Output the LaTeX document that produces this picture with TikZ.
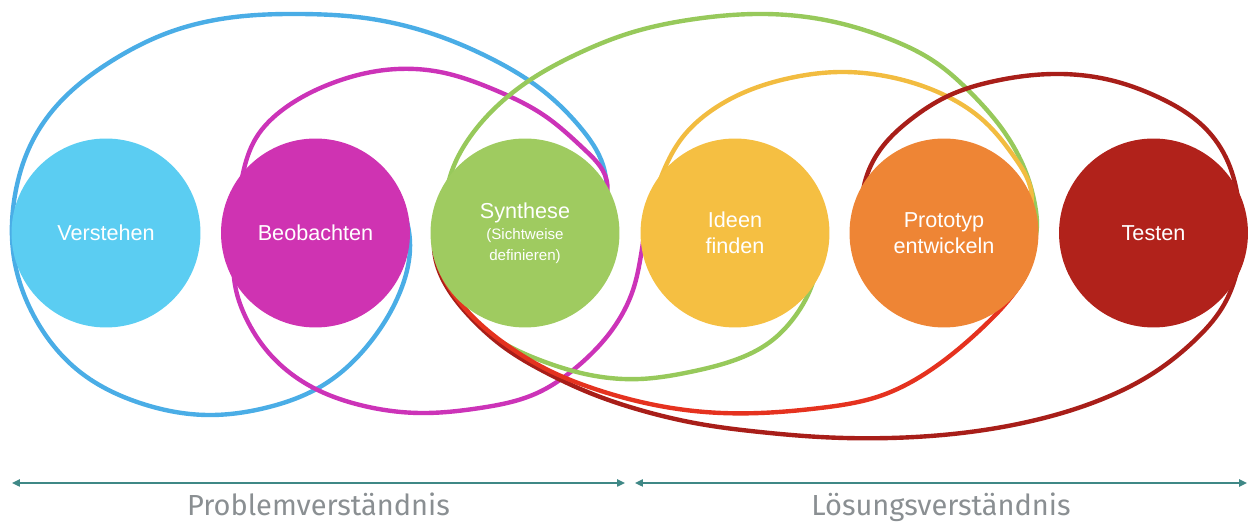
\documentclass[tikz,border=0pt]{standalone}
\usepackage{fontspec}
\setmainfont{Liberation Sans}
\newfontfamily\phasefont{Fira Sans}
\usetikzlibrary{arrows.meta, hobby}

\definecolor{verfill}{HTML}{5BCDF2}
\definecolor{verring}{HTML}{4AADE6}
\definecolor{beofill}{HTML}{CF33B2}
\definecolor{beoring}{HTML}{CC33B8}
\definecolor{synfill}{HTML}{9FCB60}
\definecolor{synring}{HTML}{97C95B}
\definecolor{idefill}{HTML}{F5BF42}
\definecolor{idering}{HTML}{F2BC40}
\definecolor{profill}{HTML}{EE8535}
\definecolor{proring}{HTML}{E5321F}
\definecolor{tesfill}{HTML}{B1221B}
\definecolor{tesring}{HTML}{A81E19}
\definecolor{phaseline}{HTML}{3F8886}
\definecolor{phasetext}{HTML}{8A8F92}

\newcommand{\smalltxt}{\fontsize{8.6}{11}\selectfont}

\tikzset{
  ring/.style={line width=2.5pt, line cap=round},
  stage/.style={circle, minimum size=3.78cm, inner sep=0pt, text=white, align=center,
    font=\fontsize{12.3}{14.7}\selectfont},
  span/.style={draw=phaseline, line width=1.1pt, {Triangle[length=4.5pt,width=4pt]}-{Triangle[length=4.5pt,width=4pt]}},
  spanlabel/.style={text=phasetext, anchor=base, font=\phasefont\fontsize{16.5}{19}\selectfont}
}

\begin{document}
\begin{tikzpicture}[x=0.02cm, y=-0.02cm]
\useasboundingbox (0,0) rectangle (1249,523);

\def\yc{233}

% outer ring around Verstehen
\draw[ring, verring] plot[hobby] coordinates {(402,208) (410,242) (400,292) (372,340) (325,384) (265,408) (207,415) (140,403) (80,372) (35,318) (14,258) (15,195) (33,140) (62,100) (110,62) (170,32) (235,17) (300,14) (365,18) (430,33) (490,58) (542,90) (580,127) (603,165) (606,195)};

% ring around Beobachten
\draw[ring, beoring] plot[hobby] coordinates {(604,203) (606,178) (585,150) (545,116) (495,90) (440,72) (385,70) (330,84) (285,108) (256,138) (245,165) (239,195) (234,230) (233,262) (236,290) (246,318) (268,352) (310,386) (360,405) (420,413) (480,408) (535,394) (578,366) (612,330) (633,290) (641,255) (645,228)};

% ring around Synthese
\draw[ring, synring] plot[hobby] coordinates {(818,255) (812,285) (796,315) (770,342) (735,360) (690,372) (640,379) (590,375) (545,362) (505,344) (476,322) (458,295) (447,265) (443,232) (445,200) (453,168) (470,137) (495,108) (530,80) (575,55) (630,33) (695,19) (765,14) (830,21) (887,38) (935,62) (972,94) (1005,133) (1025,170) (1035,205) (1036,235) (1028,255)};

% ring around Ideen finden
\draw[ring, idering] plot[hobby] coordinates {(655,195) (664,170) (682,138) (708,113) (745,92) (790,78) (840,72) (890,77) (940,93) (985,122) (1015,158) (1031,190) (1030,212)};

% ring around Testen
\draw[ring, tesring] plot[hobby] coordinates {(862,205) (866,178) (883,146) (910,120) (948,96) (995,81) (1053,74) (1110,80) (1160,98) (1205,128) (1228,162) (1239,205) (1241,240) (1236,275) (1222,308) (1195,340) (1155,372) (1100,400) (1040,419) (970,432) (890,438) (820,437) (760,432) (700,424) (640,410) (590,393) (545,372) (505,348) (473,320) (450,292) (437,265) (434,245) (438,225)};

% ring around Prototyp
\draw[ring, proring] plot[hobby] coordinates {(438,228) (435,250) (441,272) (455,296) (476,320) (508,346) (548,370) (595,389) (650,404) (705,412) (760,413) (820,408) (880,396) (935,367) (980,330) (1012,296) (1030,265) (1034,240)};

% the six stages
\node[stage, fill=verfill] (V) at (106, \yc) {Verstehen};
\node[stage, fill=beofill] (B) at (315.5, \yc) {Beobachten};
\node[stage, fill=synfill] (S) at (525, \yc) {Synthese\\[-2.5pt]\smalltxt (Sichtweise\\[-3pt]\smalltxt definieren)};
\node[stage, fill=idefill] (I) at (735, \yc) {Ideen\\finden};
\node[stage, fill=profill] (P) at (944, \yc) {Prototyp\\entwickeln};
\node[stage, fill=tesfill] (T) at (1153.5, \yc) {Testen};

% phase arrows
\coordinate (pl) at (12, 483);
\coordinate (pr) at (625, 483);
\coordinate (ll) at (635, 483);
\coordinate (lr) at (1247, 483);
\draw[span] (pl) -- (pr);
\draw[span] (ll) -- (lr);
\node[spanlabel] (prob) at (318.5, 516) {Problemverständnis};
\node[spanlabel] (loes) at (941, 516) {Lösungsverständnis};

\end{tikzpicture}
\end{document}
